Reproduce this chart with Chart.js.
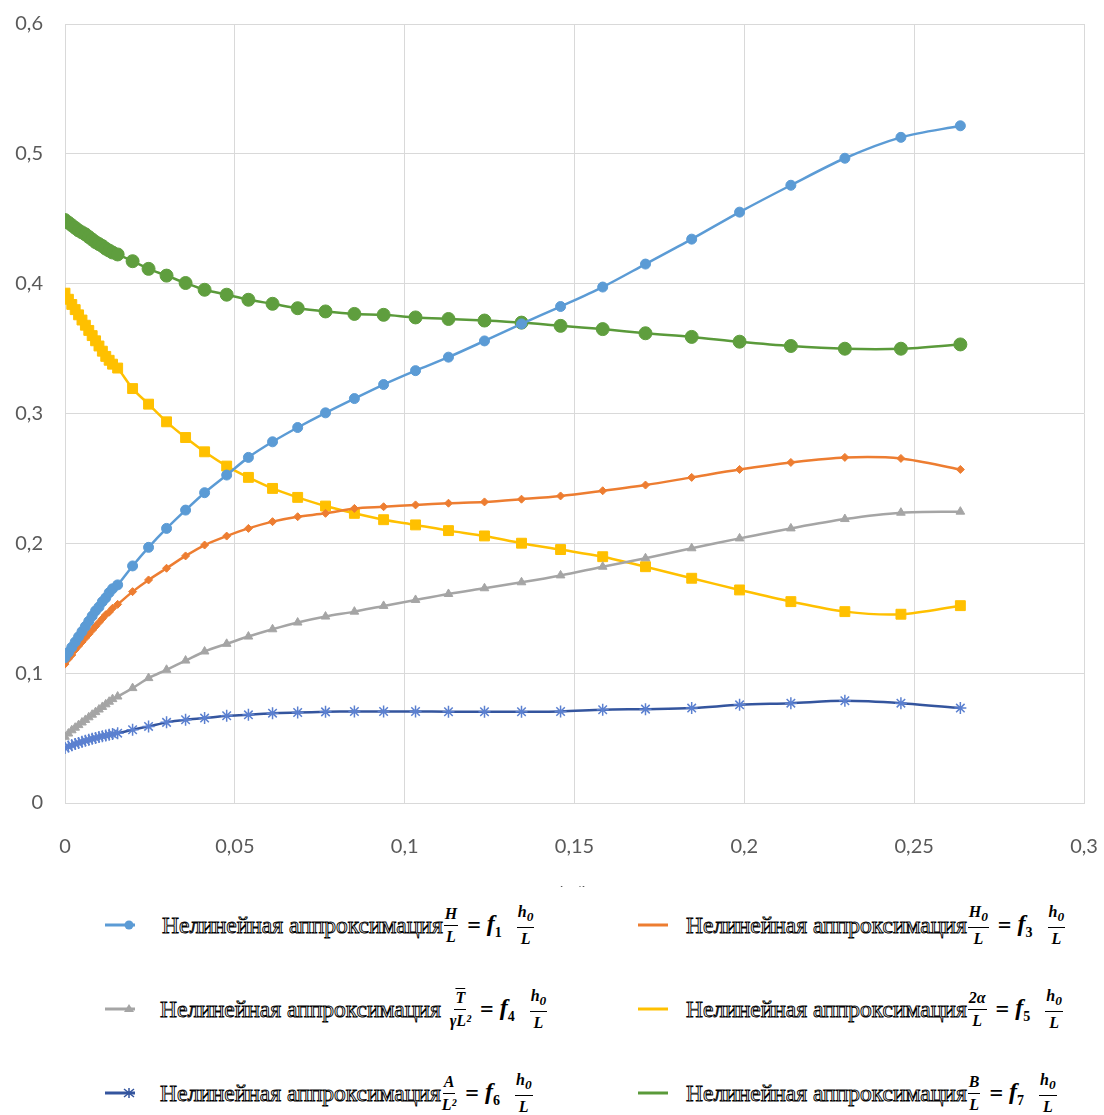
<!DOCTYPE html>
<html>
<head>
<meta charset="utf-8">
<script src="https://cdn.jsdelivr.net/npm/chart.js@4"></script>
<style>
  body { margin: 0; background: #fff; }
  #wrap { position: relative; width: 1104px; height: 1115px; overflow: hidden; }
  #legend { position: absolute; left: 0; top: 887px; width: 1104px; height: 228px; background: #fff; }
  .item { position: absolute; display: flex; align-items: center; white-space: nowrap; }
  .txt { font: 23.5px "Liberation Serif", serif; color: #fff; -webkit-text-stroke: 0.9px #000; }
  .frac { display: inline-flex; flex-direction: column; align-items: center;
          font: bold italic 16px "Liberation Serif", serif; line-height: 1; margin: 0 3px 0 1px; }
  .num { border-bottom: 1.6px solid #000; padding: 0 1px 3px; }
  .den { padding-top: 3px; }
  .eq { font: bold 24px "Liberation Serif", serif; margin: 0 6px; }
  .f { font: bold italic 24px "Liberation Serif", serif; margin-right: 14px; }
  .f sub { font-size: 14px; font-style: normal; }
</style>
</head>
<body>
<div id="wrap">
  <canvas id="chart" width="1104" height="905"></canvas>
  <div id="legend"></div>
</div>
<script>
// h0/L values
const hL = [0, 0.001, 0.002, 0.003, 0.004, 0.005, 0.006, 0.007, 0.008, 0.009, 0.010, 0.011, 0.012, 0.013, 0.014, 0.0155,
  0.0199, 0.0246, 0.0299, 0.0355, 0.0411, 0.0476, 0.0540, 0.0611, 0.0685, 0.0767, 0.0852, 0.0938,
  0.1032, 0.1129, 0.1235, 0.1344, 0.1459, 0.1583, 0.1709, 0.1845, 0.1986, 0.2137, 0.2296, 0.2461, 0.2636];

const f1 = [0.112, 0.116, 0.120, 0.124, 0.128, 0.132, 0.136, 0.140, 0.144, 0.148, 0.151, 0.155, 0.158, 0.162, 0.165, 0.168,
  0.1826, 0.1969, 0.2115, 0.2256, 0.2390, 0.2526, 0.2662, 0.2782, 0.2892, 0.3005, 0.3115, 0.3223,
  0.3330, 0.3434, 0.3559, 0.369, 0.3824, 0.3974, 0.4151, 0.4343, 0.4551, 0.4758, 0.4966, 0.5127, 0.5216];

const f3 = [0.107, 0.111, 0.114, 0.118, 0.121, 0.124, 0.127, 0.130, 0.133, 0.136, 0.139, 0.142, 0.145, 0.147, 0.150, 0.153,
  0.1628, 0.1718, 0.1808, 0.1903, 0.1987, 0.2056, 0.2115, 0.2167, 0.2205, 0.2231, 0.2269, 0.2282,
  0.2296, 0.2309, 0.2319, 0.2340, 0.2365, 0.2405, 0.2449, 0.2508, 0.2569, 0.2623, 0.2662, 0.2654, 0.2569];

const f4 = [0.051, 0.0535, 0.056, 0.058, 0.060, 0.062, 0.064, 0.066, 0.068, 0.070, 0.072, 0.074, 0.076, 0.078, 0.080, 0.082,
  0.0885, 0.0962, 0.1026, 0.1097, 0.1167, 0.1226, 0.1282, 0.1338, 0.1390, 0.1436, 0.1474, 0.1518,
  0.1564, 0.1610, 0.1654, 0.1700, 0.1753, 0.182, 0.1885, 0.1962, 0.2038, 0.2115, 0.2187, 0.2236, 0.2244];

const f5 = [0.3927, 0.388, 0.384, 0.380, 0.376, 0.372, 0.368, 0.364, 0.360, 0.356, 0.352, 0.348, 0.344, 0.341, 0.338, 0.335,
  0.3192, 0.3072, 0.2936, 0.2815, 0.2705, 0.2595, 0.2508, 0.2423, 0.2354, 0.2287, 0.2231, 0.2182,
  0.2142, 0.2098, 0.2057, 0.2001, 0.1952, 0.1897, 0.182, 0.1731, 0.1641, 0.1551, 0.1474, 0.1454, 0.152];

const f6 = [0.0424, 0.0435, 0.0445, 0.0455, 0.0463, 0.0471, 0.0479, 0.0487, 0.0494, 0.0501, 0.0508, 0.0514, 0.0520, 0.0526, 0.0532, 0.0538,
  0.0564, 0.0590, 0.0621, 0.0641, 0.0654, 0.0672, 0.0679, 0.0692, 0.0697, 0.0702, 0.0705, 0.0705,
  0.0705, 0.0703, 0.0703, 0.0703, 0.0705, 0.0718, 0.0723, 0.0731, 0.0756, 0.0769, 0.0787, 0.0769, 0.0731];

const f7 = [0.449, 0.447, 0.445, 0.443, 0.441, 0.4395, 0.438, 0.436, 0.434, 0.432, 0.4305, 0.429, 0.427, 0.4255, 0.424, 0.4225,
  0.4173, 0.4114, 0.4062, 0.4005, 0.3953, 0.3915, 0.3876, 0.3845, 0.3811, 0.3786, 0.3767, 0.3760,
  0.3740, 0.3728, 0.3716, 0.3700, 0.3675, 0.365, 0.3618, 0.359, 0.3553, 0.352, 0.3499, 0.3499, 0.3532];

const label = "Нелинейная аппроксимация";

function pts(ys) {
  return hL.map((x, i) => ({ x: x, y: ys[i] }));
}

function series(ys, line, fill, style, radius) {
  return {
    data: pts(ys),
    borderColor: line,
    backgroundColor: fill,
    pointBackgroundColor: fill,
    pointBorderColor: fill,
    borderWidth: 2.5,
    pointStyle: style,
    pointRadius: radius,
    pointBorderWidth: style === "star" ? 1.5 : 1,
    tension: 0.3,
    showLine: true,
  };
}

const comma = (v) => String(Math.round(v * 100) / 100).replace(".", ",");

new Chart(document.getElementById("chart"), {
  type: "scatter",
  data: {
    datasets: [
      series(f1, "#5B9BD5", "#5B9BD5", "circle", 5),
      series(f3, "#ED7D31", "#ED7D31", "rectRot", 4),
      series(f4, "#A5A5A5", "#A5A5A5", "triangle", 5),
      series(f5, "#FFC000", "#FFC000", "rect", 7),
      series(f6, "#34559E", "#5B80D0", "star", 6),
      series(f7, "#5A9A3A", "#5F9E3E", "circle", 6.5),
    ],
  },
  options: {
    responsive: false,
    devicePixelRatio: 1,
    animation: false,
    layout: { padding: { left: 0, right: 20, top: 24, bottom: 0 } },
    plugins: { legend: { display: false }, tooltip: { enabled: false } },
    scales: {
      x: {
        type: "linear",
        min: 0,
        max: 0.3,
        afterFit: (s) => { s.height = 102; s.paddingLeft = 0; s.paddingRight = 0; },
        grid: { color: "#d9d9d9", drawTicks: false },
        border: { color: "#d9d9d9" },
        ticks: {
          stepSize: 0.05,
          padding: 32,
          color: "#595959",
          font: { family: "Lato", size: 20 },
          callback: comma,
        },
        title: {
          display: true,
          text: "h₀/L",
          color: "#595959",
          font: { family: "Lato", size: 16 },
        },
      },
      y: {
        min: 0,
        max: 0.6,
        afterFit: (s) => { s.width = 65; s.paddingTop = 0; s.paddingBottom = 0; },
        grid: { color: "#d9d9d9", drawTicks: false },
        border: { color: "#d9d9d9" },
        ticks: {
          stepSize: 0.1,
          padding: 22,
          color: "#595959",
          font: { family: "Lato", size: 20 },
          callback: comma,
        },
      },
    },
  },
});

// legend with fractions
function mark(color, style, gap) {
  let m = "";
  if (style === "circle") m = `<circle cx="24" cy="10" r="4.5" fill="${color}"/>`;
  if (style === "tri") m = `<polygon points="24,5 29,13 19,13" fill="${color}"/>`;
  if (style === "star") m = `<path d="M19 6 L29 14 M19 14 L29 6 M24 5 L24 15" stroke="${color}" stroke-width="1.5"/>`;
  return `<svg width="30" height="20" style="margin-right:${gap}px"><line x1="0" y1="10" x2="30" y2="10" stroke="${color}" stroke-width="3"/>${m}</svg>`;
}

const frac = (n, d) => `<span class="frac"><span class="num">${n}</span><span class="den">${d}</span></span>`;
const rhs = (k) => `<span class="eq">=</span><span class="f">f<sub>${k}</sub></span>${frac("h<sub>0</sub>", "L")}`;

const items = [
  { left: 105, top: 17, gap: 27, color: "#5B9BD5", style: "circle", lhs: frac("H", "L"), k: 1 },
  { left: 638, top: 17, gap: 18, color: "#ED7D31", style: "", lhs: frac("H<sub>0</sub>", "L"), k: 3 },
  { left: 105, top: 101, gap: 25, color: "#A5A5A5", style: "tri", lhs: "&nbsp;&nbsp;" + frac('<span style="text-decoration:overline">T</span>', "γL²"), k: 4 },
  { left: 638, top: 101, gap: 18, color: "#FFC000", style: "", lhs: frac("2α", "L"), k: 5 },
  { left: 105, top: 185, gap: 25, color: "#34559E", style: "star", lhs: frac("A", "L²"), k: 6 },
  { left: 638, top: 185, gap: 18, color: "#5A9A3A", style: "", lhs: frac("B", "L"), k: 7 },
];

const legend = document.getElementById("legend");
items.forEach((it) => {
  const div = document.createElement("div");
  div.className = "item";
  div.style.left = it.left + "px";
  div.style.top = it.top + "px";
  div.innerHTML = mark(it.color, it.style, it.gap) + `<span class="txt">${label}</span>` + it.lhs + rhs(it.k);
  legend.appendChild(div);
});
</script>
</body>
</html>
